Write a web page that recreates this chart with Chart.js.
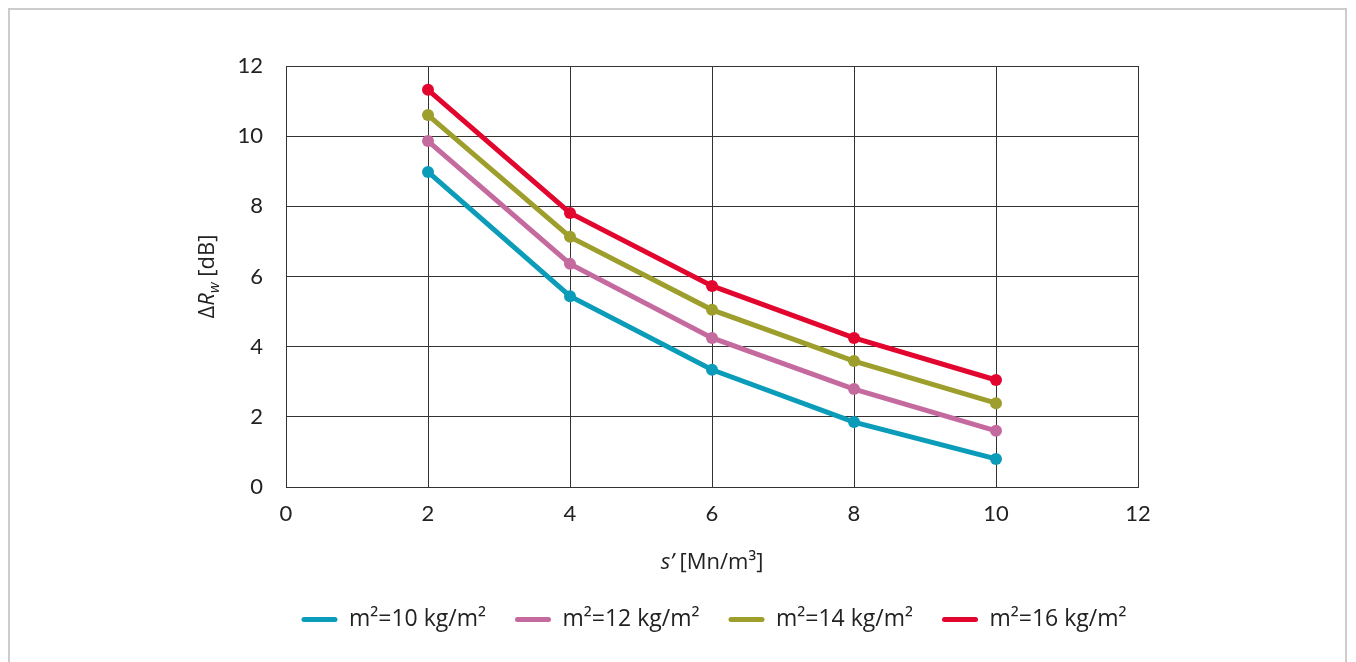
<!DOCTYPE html>
<html><head><meta charset="utf-8">
<script src="https://cdn.jsdelivr.net/npm/chart.js@4.4.0/dist/chart.umd.min.js"></script>
<style>
html,body{margin:0;padding:0;background:#fff;overflow:hidden}
#frame{position:absolute;left:8px;top:8px;width:1339px;height:700px;border:2px solid #cccccc;border-bottom:none;box-sizing:border-box}
canvas{position:absolute;left:0;top:0}
</style></head>
<body>
<div id="frame"></div>
<canvas id="c" width="1356" height="662"></canvas>
<script>
const xValues = [2, 4, 6, 8, 10];
const seriesLabels = ['m²=10 kg/m²', 'm²=12 kg/m²', 'm²=14 kg/m²', 'm²=16 kg/m²'];
const seriesM10 = [8.98, 5.44, 3.34, 1.85, 0.80];
const seriesM12 = [9.86, 6.36, 4.25, 2.79, 1.60];
const seriesM14 = [10.6, 7.13, 5.05, 3.59, 2.39];
const seriesM16 = [11.32, 7.81, 5.73, 4.25, 3.05];
const xTickValues = [0, 2, 4, 6, 8, 10, 12];
const yTickValues = [0, 2, 4, 6, 8, 10, 12];
const colors = ['#0a9cb9', '#c56a9f', '#9d9e2b', '#e2062f'];

const FONT = 'Lato, "Open Sans", sans-serif';
const FONT2 = '"Open Sans", Lato, sans-serif';
const allSeries = [seriesM10, seriesM12, seriesM14, seriesM16];

const datasets = allSeries.map((s, i) => ({
  label: seriesLabels[i],
  data: s.map((v, j) => ({x: xValues[j], y: v})),
  borderColor: colors[i],
  backgroundColor: colors[i],
  pointBackgroundColor: colors[i],
  pointBorderColor: colors[i],
  borderWidth: 5,
  pointRadius: 6,
  pointBorderWidth: 0,
  tension: 0,
  xAxisID: 'x', yAxisID: 'y'
}));

const axisTitles = {
  id: 'axisTitles',
  afterDraw(chart) {
    const ctx = chart.ctx;
    const ca = chart.chartArea;
    ctx.save();
    ctx.fillStyle = '#222';
    ctx.textBaseline = 'middle';
    const parts = [
      {t: 's’', f: 'italic 22px ' + FONT2},
      {t: ' [Mn/m³]', f: '22px ' + FONT2}
    ];
    let w = 0;
    parts.forEach(p => { ctx.font = p.f; p.w = ctx.measureText(p.t).width; w += p.w; });
    let x = (ca.left + ca.right) / 2 - w / 2;
    const y = 563;
    parts.forEach(p => { ctx.font = p.f; ctx.textAlign = 'left'; ctx.fillText(p.t, x, y); x += p.w; });
    ctx.translate(208, (ca.top + ca.bottom) / 2);
    ctx.rotate(-Math.PI / 2);
    const yp = [
      {t: 'Δ', f: '22px ' + FONT2, dy: 0},
      {t: 'R', f: 'italic 22px ' + FONT2, dy: 0},
      {t: 'w', f: 'italic 15px ' + FONT2, dy: 7},
      {t: ' [dB]', f: '22px ' + FONT2, dy: 0}
    ];
    let w2 = 0;
    yp.forEach(p => { ctx.font = p.f; p.w = ctx.measureText(p.t).width; w2 += p.w; });
    let xx = -w2 / 2;
    yp.forEach(p => { ctx.font = p.f; ctx.textAlign = 'left'; ctx.fillText(p.t, xx, p.dy); xx += p.w; });
    ctx.restore();
  }
};

new Chart(document.getElementById('c'), {
  type: 'line',
  data: {datasets},
  plugins: [axisTitles],
  options: {
    responsive: false,
    animation: false,
    layout: {padding: {left: 100, right: 28, top: 66, bottom: 21}},
    plugins: {
      tooltip: {enabled: false},
      legend: {
        display: true,
        position: 'bottom',
        labels: {
          color: '#222',
          font: {family: FONT2, size: 23},
          boxWidth: 36,
          boxHeight: 5,
          useBorderRadius: true,
          borderRadius: 2.5,
          padding: 29,
          generateLabels(chart) {
            return chart.data.datasets.map((d, i) => ({
              text: d.label, fillStyle: d.borderColor, strokeStyle: d.borderColor,
              lineWidth: 0, hidden: false, datasetIndex: i, fontColor: '#222', borderRadius: 2.5
            }));
          }
        }
      }
    },
    scales: {
      x: {
        type: 'linear', min: 0, max: 12,
        afterBuildTicks(s) { s.ticks = xTickValues.map(v => ({value: v})); },
        afterFit(s) { s.height = 92; },
        grid: {color: '#333', lineWidth: 1, drawTicks: false},
        border: {color: '#333', width: 1},
        ticks: {color: '#222', font: {family: FONT, size: 22}, padding: 14, maxRotation: 0}
      },
      y: {
        type: 'linear', min: 0, max: 12,
        afterBuildTicks(s) { s.ticks = yTickValues.map(v => ({value: v})); },
        afterFit(s) { s.width = 186; },
        grid: {color: '#333', lineWidth: 1, drawTicks: false},
        border: {color: '#333', width: 1},
        ticks: {color: '#222', font: {family: FONT, size: 22}, padding: 23}
      },
      yRight: {
        type: 'linear', position: 'right', min: 0, max: 12, display: true,
        afterFit(s) { s.width = 190; },
        grid: {display: false, drawTicks: false},
        border: {display: false},
        ticks: {display: false}
      }
    }
  }
});
</script>
</body></html>
